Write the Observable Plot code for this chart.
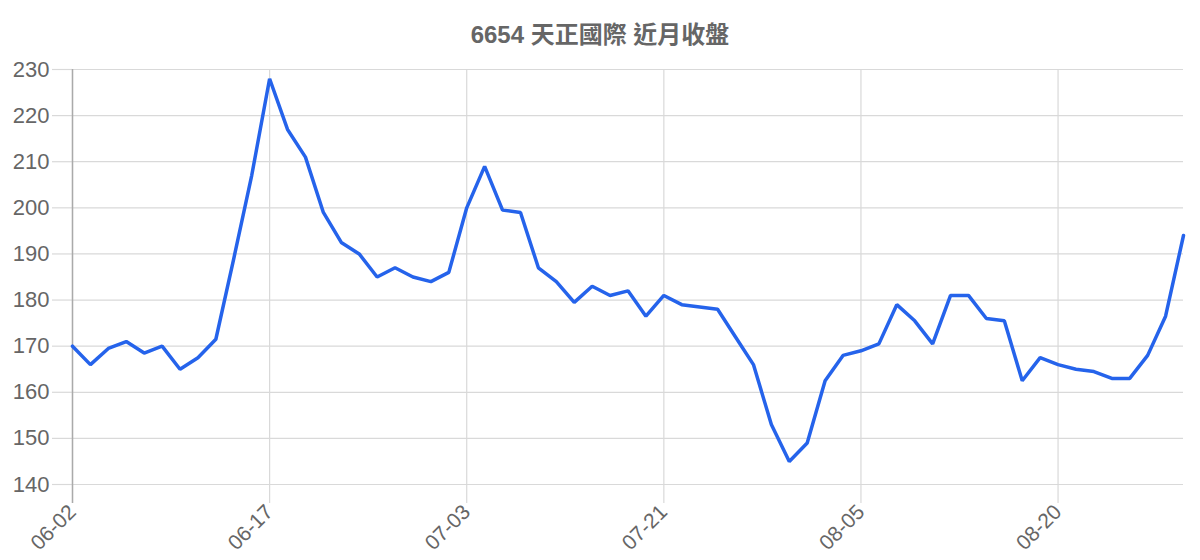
<!DOCTYPE html>
<html>
<head>
<meta charset="utf-8">
<script src="https://cdn.jsdelivr.net/npm/d3@7"></script>
<script src="https://cdn.jsdelivr.net/npm/@observablehq/plot@0.6"></script>
<style>
  html, body { margin: 0; padding: 0; background: #fff; }
  body { width: 1200px; height: 560px; overflow: hidden; font-family: "Liberation Sans", "Noto Sans CJK TC", sans-serif; }
  #title { box-sizing: border-box; height: 50px; padding-top: 23px; text-align: center; font-size: 24px; line-height: 24px; font-weight: bold; color: #666; }
  #chart svg { display: block; }
</style>
</head>
<body>
<div id="title">6654 天正國際 近月收盤</div>
<div id="chart"></div>
<script>
const dates = [
  "06-02","06-03","06-04","06-05","06-06","06-09","06-10","06-11","06-12","06-13","06-16",
  "06-17","06-18","06-19","06-20","06-23","06-24","06-25","06-26","06-27","06-30","07-01",
  "07-03","07-04","07-07","07-08","07-09","07-10","07-11","07-14","07-15","07-16","07-17",
  "07-21","07-22","07-23","07-24","07-25","07-28","07-29","07-30","07-31","08-01","08-04",
  "08-05","08-06","08-07","08-08","08-11","08-12","08-13","08-14","08-15","08-18","08-19",
  "08-20","08-21","08-22","08-25","08-26","08-27","08-28","08-29"
];
const closes = [
  170, 166, 169.5, 171, 168.5, 170, 165, 167.5, 171.5, 189, 207,
  228, 217, 211, 199, 192.5, 190, 185, 187, 185, 184, 186,
  200, 209, 199.5, 199, 187, 184, 179.5, 183, 181, 182, 176.5,
  181, 179, 178.5, 178, 172, 166, 153, 145, 149, 162.5, 168,
  169, 170.5, 179, 175.5, 170.5, 181, 181, 176, 175.5, 162.5, 167.5,
  166, 165, 164.5, 163, 163, 168, 176.5, 194
];
const yTicks = [140, 150, 160, 170, 180, 190, 200, 210, 220, 230];
const xTickLabels = ["06-02", "06-17", "07-03", "07-21", "08-05", "08-20"];

const table = dates.map((d, i) => ({date: d, close: closes[i]}));

const chart = Plot.plot({
  width: 1200,
  height: 510,
  marginTop: 19,
  marginBottom: 76,
  marginLeft: 72,
  marginRight: 17,
  style: {fontFamily: '"Liberation Sans", "Noto Sans CJK TC", sans-serif', background: "#fff", color: "#666"},
  x: {type: "point", domain: dates, padding: 0, label: null},
  y: {domain: [140, 230], label: null},
  marks: [
    Plot.gridY(yTicks, {stroke: "#d9d9d9", strokeOpacity: 1, strokeWidth: 1.2}),
    Plot.gridX(xTickLabels, {stroke: "#d9d9d9", strokeOpacity: 1, strokeWidth: 1.2}),
    Plot.axisY(yTicks, {tickSize: 20, tickPadding: 3, stroke: "#d9d9d9", strokeWidth: 1.2, fill: "#666", fontSize: 22}),
    Plot.axisX(xTickLabels, {tickSize: 19, tickPadding: 5, tickRotate: -45, stroke: "#d9d9d9", strokeWidth: 1.2, fill: "#666", fontSize: 21}),
    Plot.ruleX([dates[0]], {stroke: "#aaa", strokeWidth: 1.5, insetBottom: -19}),
    Plot.line(table, {x: "date", y: "close", stroke: "#2563eb", strokeWidth: 3.5, strokeLinejoin: "miter"})
  ]
});
document.getElementById("chart").appendChild(chart);
</script>
</body>
</html>
